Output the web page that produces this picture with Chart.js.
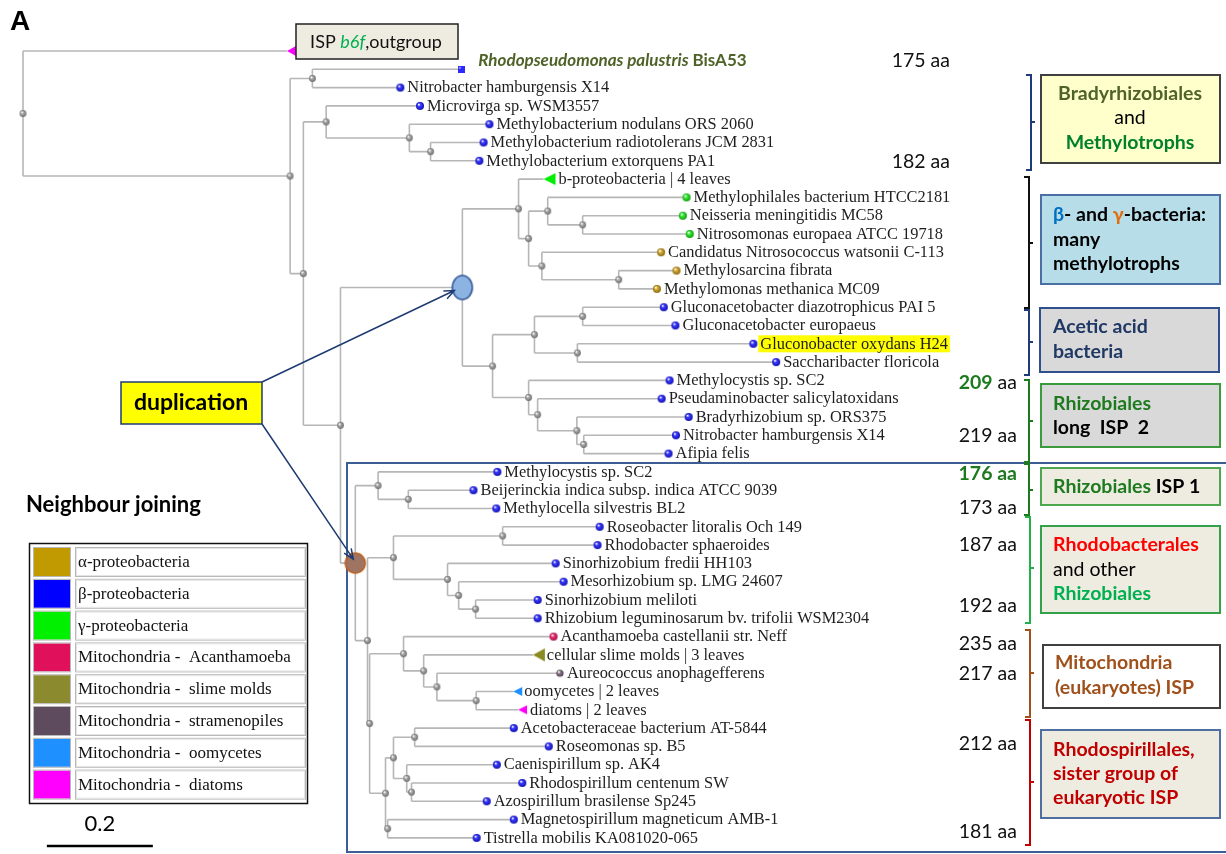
<!DOCTYPE html>
<html>
<head>
<meta charset="utf-8">
<script src="https://cdn.jsdelivr.net/npm/chart.js@4.4.1/dist/chart.umd.min.js"></script>
<style>
  html, body { margin: 0; padding: 0; background: #fff; overflow: hidden; }
  canvas { display: block; }
</style>
</head>
<body>
<canvas id="tree" width="1226" height="854"></canvas>
<script>
// leaves, top to bottom
const leafNames = [
  'ISP b6f,outgroup',
  'Rhodopseudomonas palustris BisA53',
  'Nitrobacter hamburgensis X14',
  'Microvirga sp. WSM3557',
  'Methylobacterium nodulans ORS 2060',
  'Methylobacterium radiotolerans JCM 2831',
  'Methylobacterium extorquens PA1',
  'b-proteobacteria | 4 leaves',
  'Methylophilales bacterium HTCC2181',
  'Neisseria meningitidis MC58',
  'Nitrosomonas europaea ATCC 19718',
  'Candidatus Nitrosococcus watsonii C-113',
  'Methylosarcina fibrata',
  'Methylomonas methanica MC09',
  'Gluconacetobacter diazotrophicus PAI 5',
  'Gluconacetobacter europaeus',
  'Gluconobacter oxydans H24',
  'Saccharibacter floricola',
  'Methylocystis sp. SC2',
  'Pseudaminobacter salicylatoxidans',
  'Bradyrhizobium sp. ORS375',
  'Nitrobacter hamburgensis X14',
  'Afipia felis',
  'Methylocystis sp. SC2',
  'Beijerinckia indica subsp. indica ATCC 9039',
  'Methylocella silvestris BL2',
  'Roseobacter litoralis Och 149',
  'Rhodobacter sphaeroides',
  'Sinorhizobium fredii HH103',
  'Mesorhizobium sp. LMG 24607',
  'Sinorhizobium meliloti',
  'Rhizobium leguminosarum bv. trifolii WSM2304',
  'Acanthamoeba castellanii str. Neff',
  'cellular slime molds | 3 leaves',
  'Aureococcus anophagefferens',
  'oomycetes | 2 leaves',
  'diatoms | 2 leaves',
  'Acetobacteraceae bacterium AT-5844',
  'Roseomonas sp. B5',
  'Caenispirillum sp. AK4',
  'Rhodospirillum centenum SW',
  'Azospirillum brasilense Sp245',
  'Magnetospirillum magneticum AMB-1',
  'Tistrella mobilis KA081020-065'
];
// marker kind of each leaf
const leafKinds = [
  'out', 'sq', 'b', 'b', 'b', 'b', 'b', 'tg', 'g', 'g', 'g', 'y', 'y', 'y',
  'b', 'b', 'b', 'b', 'b', 'b', 'b', 'b', 'b', 'b', 'b', 'b', 'b', 'b', 'b', 'b', 'b', 'b',
  'ac', 'ts', 'st', 'to', 'td', 'b', 'b', 'b', 'b', 'b', 'b', 'b'
];
const highlightedLeaf = 16;

// protein lengths written next to the tree
const aaLabels = ['175 aa', '182 aa', '209 aa', '219 aa', '176 aa', '173 aa',
                  '187 aa', '192 aa', '235 aa', '217 aa', '212 aa', '181 aa'];

const legendLabels = ['α-proteobacteria', 'β-proteobacteria', 'γ-proteobacteria',
  'Mitochondria -  Acanthamoeba', 'Mitochondria -  slime molds',
  'Mitochondria -  stramenopiles', 'Mitochondria -  oomycetes', 'Mitochondria -  diatoms'];
const legendColors = ['#c09a00', '#0000ff', '#00f000', '#e0105a', '#8b8a2e', '#5e4b5e', '#1e90ff', '#ff00ff'];

const scaleBarLength = 0.2;

// tree (Newick, branch lengths); leaf labels are indices into leafNames
const treeBradyMethylo = '(3:0.177,(4:0.151,(5:0.100,6:0.092):0.040):0.157)';
const treeBetaGamma = '(7:0.047,((8:0.262,(9:0.189,10:0.202):0.066):0.036,(11:0.225,(12:0.109,13:0.072):0.145):0.025):0.019)';
const treeAcetic = '((14:0.153,15:0.175):0.091,(16:0.332,17:0.375):0.081)';
const treeRhizoLong = '(18:0.266,(19:0.234,(20:0.211,(21:0.174,22:0.160):0.013):0.074):0.017)';
const treeRhizoIsp1 = '(23:0.225,(24:0.123,25:0.166):0.057)';
const treeRhodobact = '((26:0.183,27:0.179):0.206,(28:0.204,(29:0.198,(30:0.117,31:0.117):0.032):0.021):0.102)';
const treeMito = '(32:0.283,(33:0.206,(34:0.232,(35:0.070,36:0.079):0.074):0.025):0.038)';
const treeRhodospir = '(((37:0.187,38:0.253):0.040,(39:0.170,(40:0.209,41:0.142):0.009):0.025):0.015,(42:0.238,43:0.168):0.004)';

const copyA = '(' + treeBetaGamma + ':0.106,(' + treeAcetic + ':0.079,' + treeRhizoLong + ':0.068):0.057)dupA';
const copyB = '(' + treeRhizoIsp1 + ':0.043,(' + treeRhodobact + ':0.049,(' + treeMito + ':0.064,' + treeRhodospir + ':0.030):0.004):0.023)dupB';
const newick = '(0:0.498,((1:0.281,2:0.166):0.042,(' + treeBradyMethylo + ':0.043,(' + copyA + ':0.230,' + copyB + ':0.028):0.070):0.025):0.504);';

// ---- page layout (pixels) ----
const W = 1226, H = 854;
const rootPx = 23, pxPerUnit = 530;
const firstRowPx = 51, rowPx = 18.3;
const SERIF = '"Liberation Serif", "Times New Roman", serif';
const SANS = 'Lato, "Open Sans", sans-serif';
const B19 = 'bold 19.5px ' + SANS, R19 = '19.5px ' + SANS;

function parseNewick(s) {
    let i = 0;
    function node() {
        const n = { children: [], len: 0, label: '' };
        if (s[i] === '(') {
            i++;
            n.children.push(node());
            while (s[i] === ',') { i++; n.children.push(node()); }
            i++;
        }
        while (i < s.length && !':,();'.includes(s[i])) n.label += s[i++];
        if (s[i] === ':') {
            i++;
            let num = '';
            while (i < s.length && !',();'.includes(s[i])) num += s[i++];
            n.len = parseFloat(num);
        }
        return n;
    }
    return node();
}

const root = parseNewick(newick);
const internals = [], leaves = [];
(function place(n, x0) {
    n.x = x0 + n.len;
    if (!n.children.length) {
        n.leaf = parseInt(n.label, 10);
        n.y = n.leaf;
        leaves.push(n);
        return;
    }
    n.children.forEach(c => place(c, n.x));
    const ys = n.children.map(c => c.y);
    n.y = (Math.min(...ys) + Math.max(...ys)) / 2;
    internals.push(n);
})(root, 0);
leaves.sort((a, b) => a.leaf - b.leaf);

// branch segments, separated by gaps
const edgePoints = [];
const gap = { x: null, y: null };
internals.forEach(n => {
    const ys = n.children.map(c => c.y);
    edgePoints.push({ x: n.x, y: Math.min(...ys) }, { x: n.x, y: Math.max(...ys) }, gap);
    n.children.forEach(c => edgePoints.push({ x: n.x, y: c.y }, { x: c.x, y: c.y }, gap));
});

// ---- marker images ----
function sphere(color, dark, r) {
    const s = Math.ceil(r * 2 + 2);
    const c = document.createElement('canvas');
    c.width = c.height = s;
    const g = c.getContext('2d');
    const grad = g.createRadialGradient(s / 2 - r * 0.35, s / 2 - r * 0.4, r * 0.1, s / 2, s / 2, r);
    grad.addColorStop(0, '#ffffff');
    grad.addColorStop(0.35, color);
    grad.addColorStop(1, dark);
    g.fillStyle = grad;
    g.beginPath();
    g.arc(s / 2, s / 2, r, 0, Math.PI * 2);
    g.fill();
    return c;
}
function square(color, size) {
    const c = document.createElement('canvas');
    c.width = c.height = size;
    const g = c.getContext('2d');
    g.fillStyle = color;
    g.fillRect(0, 0, size, size);
    g.fillStyle = 'rgba(255,255,255,0.5)';
    g.fillRect(1, 1, 2, 2);
    return c;
}
// left-pointing triangle whose tip sits on the image centre
function triangle(color, w, h) {
    const c = document.createElement('canvas');
    c.width = w * 2 + 2;
    c.height = h + 2;
    const g = c.getContext('2d');
    g.fillStyle = color;
    g.beginPath();
    g.moveTo(w + 1, h / 2 + 1);
    g.lineTo(2 * w + 1, 1);
    g.lineTo(2 * w + 1, h + 1);
    g.closePath();
    g.fill();
    return c;
}
function ellipse(fill, stroke, rx, ry) {
    const c = document.createElement('canvas');
    c.width = rx * 2 + 4;
    c.height = ry * 2 + 4;
    const g = c.getContext('2d');
    g.fillStyle = fill;
    g.strokeStyle = stroke;
    g.lineWidth = 1.5;
    g.beginPath();
    g.ellipse(rx + 2, ry + 2, rx, ry, 0, 0, Math.PI * 2);
    g.fill();
    g.stroke();
    return c;
}

const markers = {
    b: sphere('#3a3aff', '#1010b0', 4),
    g: sphere('#33ee33', '#119911', 4),
    y: sphere('#d4aa33', '#8a6a10', 4),
    ac: sphere('#ee3377', '#a01040', 4),
    st: sphere('#8a7a8a', '#4a3a4a', 3.6),
    sq: square('#2a2aff', 7),
    out: triangle('#ff00ff', 9, 10),
    tg: triangle('#00ee00', 12, 12),
    ts: triangle('#8a8a22', 12, 13),
    to: triangle('#1e90ff', 9, 9),
    td: triangle('#ff00ff', 9, 9)
};
const labelGap = { b: 7, g: 7, y: 7, ac: 7, st: 7, sq: 0, out: 0, tg: 15, ts: 14, to: 11, td: 12 };
const nodeDot = sphere('#aaaaaa', '#6e6e6e', 3.4);
const dupMarks = { dupA: ellipse('#8db3e2', '#2f5597', 10, 12), dupB: ellipse('#a07462', '#c0601a', 10, 10) };

const plainNodes = internals.filter(n => !dupMarks[n.label]);
const dupNodes = internals.filter(n => dupMarks[n.label]);

// ---- annotation layout ----
const boxes = [
    { x: 1041, y: 75, w: 179, h: 88, fill: '#ffffcc', stroke: '#404040', align: 'center', tx: 1130, ys: [94, 118, 143],
      lines: [[['Bradyrhizobiales', '#4f6228', B19]], [['and', '#000', R19]], [['Methylotrophs', '#00802b', B19]]] },
    { x: 1041, y: 195, w: 179, h: 89, fill: '#b7dde8', stroke: '#4a6fa5', align: 'left', tx: 1053, ys: [215, 240, 264],
      lines: [[['β', '#0070c0', B19], ['- and ', '#000', B19], ['γ', '#e36c09', B19], ['-bacteria:', '#000', B19]],
              [['many', '#000', B19]], [['methylotrophs', '#000', B19]]] },
    { x: 1040, y: 308, w: 179, h: 64, fill: '#d9d9d9', stroke: '#2f4f8f', align: 'left', tx: 1053, ys: [327, 352],
      lines: [[['Acetic acid', '#1f3864', B19]], [['bacteria', '#1f3864', B19]]] },
    { x: 1041, y: 384, w: 179, h: 63, fill: '#d9d9d9', stroke: '#3c9a3c', align: 'left', tx: 1053, ys: [404, 428],
      lines: [[['Rhizobiales', '#1e7a1e', B19]], [['long  ISP  2', '#000', B19]]] },
    { x: 1041, y: 468, w: 179, h: 37, fill: '#eeece1', stroke: '#4ea74e', align: 'left', tx: 1053, ys: [487],
      lines: [[['Rhizobiales', '#1e7a1e', B19], [' ISP 1', '#000', B19]]] },
    { x: 1041, y: 526, w: 179, h: 87, fill: '#eeece1', stroke: '#33a04a', align: 'left', tx: 1053, ys: [545, 570, 594],
      lines: [[['Rhodobacterales', '#ff0000', B19]], [['and other', '#000', R19]], [['Rhizobiales', '#00b050', B19]]] },
    { x: 1043, y: 645, w: 177, h: 63, fill: '#ffffff', stroke: '#404040', align: 'left', tx: 1055, ys: [663, 688],
      lines: [[['Mitochondria', '#a0501a', B19]], [['(eukaryotes) ISP', '#a0501a', B19]]] },
    { x: 1041, y: 730, w: 179, h: 88, fill: '#eeece1', stroke: '#4f6fa0', align: 'left', tx: 1053, ys: [750, 774, 798],
      lines: [[['Rhodospirillales,', '#c00000', B19]], [['sister group of', '#c00000', B19]], [['eukaryotic ISP', '#c00000', B19]]] }
];
const brackets = [
    { x: 1031, y0: 75, y1: 170, mid: 122, color: '#1f3a7a' },
    { x: 1029, y0: 177, y1: 308, mid: 243, color: '#111111' },
    { x: 1029, y0: 310, y1: 375, mid: 342, color: '#1f3a7a' },
    { x: 1029, y0: 380, y1: 462, mid: 421, color: '#1e7a1e' },
    { x: 1029, y0: 464, y1: 515, mid: 490, color: '#1e7a1e' },
    { x: 1030, y0: 517, y1: 623, mid: 568, color: '#22b04a' },
    { x: 1030, y0: 630, y1: 717, mid: 673, color: '#a0521a' },
    { x: 1030, y0: 720, y1: 845, mid: 782, color: '#c00000' }
];
// where each aa label sits: right edge, centre line, green bold part
const aaPlaces = [
    { x: 950, y: 61 }, { x: 950, y: 162 }, { x: 1017, y: 383, green: '209' }, { x: 1017, y: 436 },
    { x: 1017, y: 474, green: '176 aa' }, { x: 1017, y: 508 }, { x: 1017, y: 545 }, { x: 1017, y: 606 },
    { x: 1017, y: 644 }, { x: 1017, y: 674 }, { x: 1017, y: 744 }, { x: 1017, y: 832 }
];

function drawSpans(ctx, spans, x, y, align) {
    let w = 0;
    spans.forEach(s => { ctx.font = s[2]; w += ctx.measureText(s[0]).width; });
    let cx = align === 'center' ? x - w / 2 : align === 'right' ? x - w : x;
    ctx.textAlign = 'left';
    ctx.textBaseline = 'middle';
    spans.forEach(s => {
        ctx.font = s[2];
        ctx.fillStyle = s[1];
        ctx.fillText(s[0], cx, y);
        cx += ctx.measureText(s[0]).width;
    });
    return w;
}

function arrow(ctx, x0, y0, x1, y1) {
    const a = Math.atan2(y1 - y0, x1 - x0), L = 11, s = 0.4;
    ctx.beginPath();
    ctx.moveTo(x0, y0);
    ctx.lineTo(x1, y1);
    ctx.moveTo(x1 - L * Math.cos(a - s), y1 - L * Math.sin(a - s));
    ctx.lineTo(x1, y1);
    ctx.lineTo(x1 - L * Math.cos(a + s), y1 - L * Math.sin(a + s));
    ctx.stroke();
}

const decorations = {
    id: 'decorations',
    beforeDatasetsDraw(chart) {
        const ctx = chart.ctx;
        ctx.save();
        // frame round the second copy
        ctx.strokeStyle = '#3d5e94';
        ctx.lineWidth = 2;
        ctx.strokeRect(347, 463, W, 389);
        ctx.restore();
    },
    afterDatasetsDraw(chart) {
        const ctx = chart.ctx, xs = chart.scales.x, ys = chart.scales.y;
        ctx.save();

        // leaf labels
        leaves.forEach(n => {
            const kind = leafKinds[n.leaf];
            const px = xs.getPixelForValue(n.x), py = ys.getPixelForValue(n.y);
            if (kind === 'out') return;
            if (kind === 'sq') {
                drawSpans(ctx, [['Rhodopseudomonas palustris ', '#4f6228', 'italic bold 17px ' + SANS],
                                ['BisA53', '#4f6228', 'bold 17px ' + SANS]], px + 17, py - 9, 'left');
                return;
            }
            const tx = px + labelGap[kind];
            ctx.font = '16.4px ' + SERIF;
            if (n.leaf === highlightedLeaf) {
                const w = ctx.measureText(leafNames[n.leaf]).width;
                ctx.fillStyle = '#ffff00';
                ctx.fillRect(tx - 2, py - 8.5, w + 4, 17);
            }
            drawSpans(ctx, [[leafNames[n.leaf], '#1e1e1e', '16.4px ' + SERIF]], tx, py + 0.5, 'left');
        });

        // aa lengths
        aaLabels.forEach((t, i) => {
            const p = aaPlaces[i];
            let spans = [[t, '#111', R19]];
            if (p.green === t) spans = [[t, '#1e7a1e', B19]];
            else if (p.green) spans = [[p.green, '#1e7a1e', B19], [t.slice(p.green.length), '#111', R19]];
            drawSpans(ctx, spans, p.x, p.y, 'right');
        });

        // brackets
        brackets.forEach(b => {
            ctx.strokeStyle = b.color;
            ctx.lineWidth = 2;
            ctx.beginPath();
            ctx.moveTo(b.x - 5, b.y0);
            ctx.lineTo(b.x, b.y0);
            ctx.lineTo(b.x, b.y1);
            ctx.lineTo(b.x - 5, b.y1);
            ctx.moveTo(b.x, b.mid);
            ctx.lineTo(b.x + 4, b.mid);
            ctx.stroke();
        });

        // group boxes
        boxes.forEach(b => {
            ctx.fillStyle = b.fill;
            ctx.fillRect(b.x, b.y, b.w, b.h);
            ctx.strokeStyle = b.stroke;
            ctx.lineWidth = 2;
            ctx.strokeRect(b.x, b.y, b.w, b.h);
            b.lines.forEach((ln, i) => drawSpans(ctx, ln, b.tx, b.ys[i], b.align));
        });

        // outgroup box
        ctx.fillStyle = '#eeece1';
        ctx.fillRect(296, 24, 162, 35);
        ctx.strokeStyle = '#222';
        ctx.lineWidth = 1.5;
        ctx.strokeRect(296, 24, 162, 35);
        drawSpans(ctx, [['ISP ', '#111', '18px ' + SANS], ['b6f', '#00b050', 'italic 18px ' + SANS],
                        [',outgroup', '#111', '18px ' + SANS]], 376, 42, 'center');

        // duplication call-out
        ctx.fillStyle = '#ffff00';
        ctx.fillRect(121, 382, 141, 42);
        ctx.strokeStyle = '#1f3b73';
        ctx.lineWidth = 1.5;
        ctx.strokeRect(121, 382, 141, 42);
        drawSpans(ctx, [['duplication', '#000', 'bold 23px ' + SANS]], 191, 403, 'center');
        const dA = dupNodes.find(n => n.label === 'dupA'), dB = dupNodes.find(n => n.label === 'dupB');
        arrow(ctx, 262, 382, xs.getPixelForValue(dA.x) - 8, ys.getPixelForValue(dA.y) + 3);
        arrow(ctx, 262, 424, xs.getPixelForValue(dB.x) - 2, ys.getPixelForValue(dB.y) - 4);

        // panel letter and method
        drawSpans(ctx, [['A', '#000', 'bold 28px "Liberation Sans", Arial, sans-serif']], 10, 22, 'left');
        drawSpans(ctx, [['Neighbour joining', '#000', 'bold 22px ' + SANS]], 26, 505, 'left');

        // legend table
        ctx.strokeStyle = '#111';
        ctx.lineWidth = 1.5;
        ctx.strokeRect(29.5, 543.5, 278, 260);
        legendLabels.forEach((t, i) => {
            const top = 547 + i * 31.8;
            ctx.fillStyle = legendColors[i];
            ctx.fillRect(34, top + 1, 36, 28);
            ctx.strokeStyle = '#b8b8b8';
            ctx.lineWidth = 1;
            ctx.strokeRect(33.5, top + 0.5, 37, 29);
            ctx.strokeRect(75.5, top + 0.5, 230, 29);
            ctx.strokeStyle = '#e4e4e4';
            ctx.strokeRect(76.5, top + 1.5, 228, 27);
            drawSpans(ctx, [[t, '#111', '17px ' + SERIF]], 78, top + 15.5, 'left');
        });

        // scale bar
        const sb0 = xs.getPixelForValue(0.045), sb1 = xs.getPixelForValue(0.045 + scaleBarLength);
        ctx.strokeStyle = '#000';
        ctx.lineWidth = 2.5;
        ctx.beginPath();
        ctx.moveTo(sb0, 846);
        ctx.lineTo(sb1, 846);
        ctx.stroke();
        drawSpans(ctx, [[String(scaleBarLength), '#000', '22px ' + SANS]], (sb0 + sb1) / 2, 824, 'center');

        ctx.restore();
    }
};

const yMin = -firstRowPx / rowPx;
const xMin = -rootPx / pxPerUnit;

new Chart(document.getElementById('tree'), {
    type: 'scatter',
    data: {
        datasets: [
            {
                label: 'branches',
                data: edgePoints,
                showLine: true,
                spanGaps: false,
                pointRadius: 0,
                borderColor: '#b6b6b6',
                borderWidth: 1.6,
                order: 4
            },
            {
                label: 'nodes',
                data: plainNodes.map(n => ({ x: n.x, y: n.y })),
                pointStyle: nodeDot,
                order: 3
            },
            {
                label: 'leaves',
                data: leaves.map(n => ({ x: n.x, y: n.y })),
                pointStyle: leaves.map(n => markers[leafKinds[n.leaf]]),
                order: 2
            },
            {
                label: 'duplications',
                data: dupNodes.map(n => ({ x: n.x, y: n.y })),
                pointStyle: dupNodes.map(n => dupMarks[n.label]),
                order: 1
            }
        ]
    },
    options: {
        responsive: false,
        animation: false,
        events: [],
        layout: { padding: 0, autoPadding: false },
        scales: {
            x: { type: 'linear', min: xMin, max: xMin + W / pxPerUnit, display: false },
            y: { type: 'linear', reverse: true, min: yMin, max: yMin + H / rowPx, display: false }
        },
        plugins: { legend: { display: false }, tooltip: { enabled: false } }
    },
    plugins: [decorations]
});
</script>
</body>
</html>
